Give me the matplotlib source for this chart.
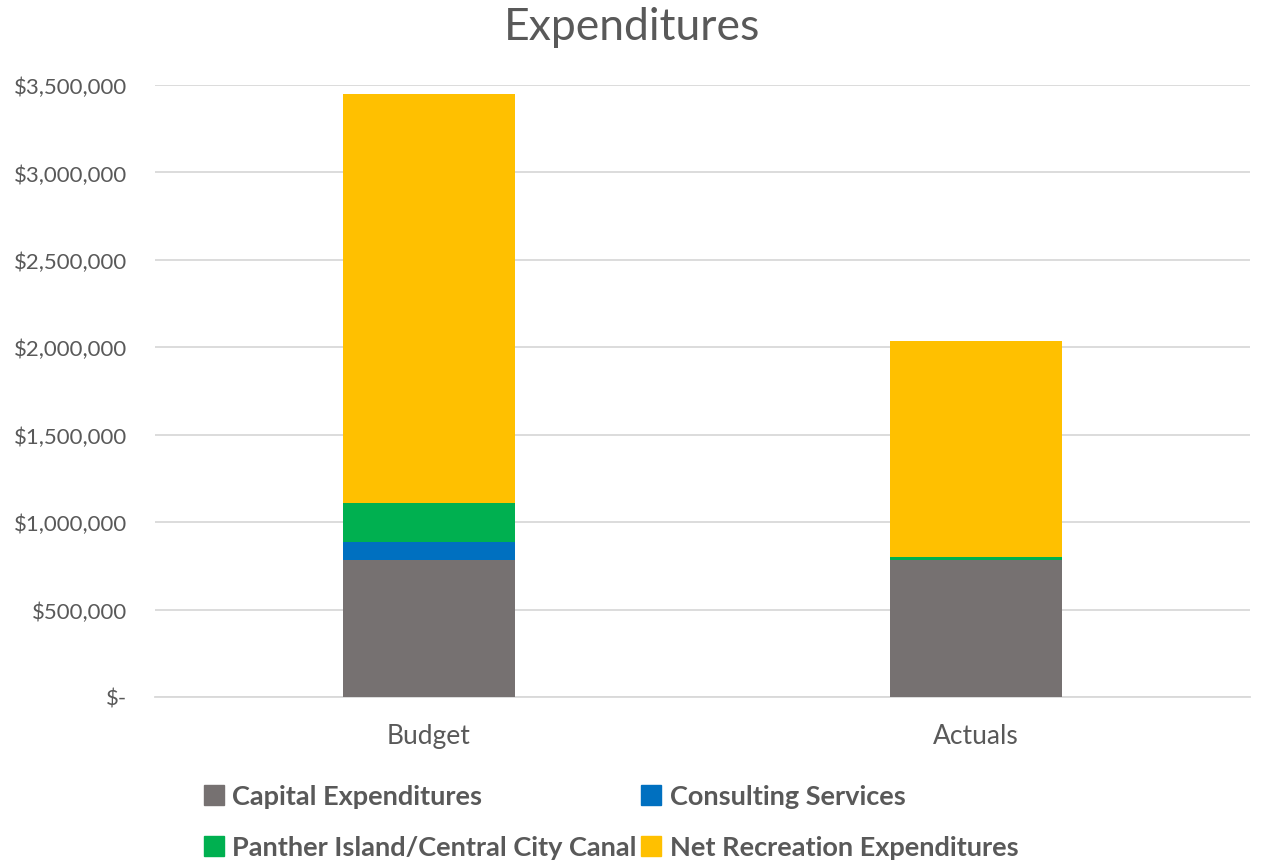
import matplotlib.pyplot as plt
from matplotlib.lines import Line2D
from matplotlib.ticker import FuncFormatter

categories = ["Budget", "Actuals"]
series_names = ["Capital Expenditures", "Consulting Services",
                "Panther Island/Central City Canal", "Net Recreation Expenditures"]
capital = [784000, 785000]
consulting = [101000, 0]
panther = [223000, 16000]
recreation = [2342000, 1236000]
yticks = [0, 500000, 1000000, 1500000, 2000000, 2500000, 3000000, 3500000]

colors = ["#767171", "#0070C0", "#00B050", "#FFC000"]
text_col = "#595959"
plt.rcParams['font.family'] = ['Lato', 'DejaVu Sans']

fig = plt.figure(figsize=(12.64, 8.62), dpi=100)
ax = fig.add_axes([155/1264, 1 - 698/862, (1250 - 155)/1264, (698 - 86)/862])

x = range(len(categories))
bottom = [0, 0]
for vals, name, c in zip([capital, consulting, panther, recreation], series_names, colors):
    ax.bar(x, vals, width=0.314, bottom=bottom, color=c, label=name, zorder=3)
    bottom = [b + v for b, v in zip(bottom, vals)]

ax.set_xlim(-0.5, 1.5)
ax.set_ylim(0, 3500000)
ax.set_yticks(yticks)
ax.yaxis.set_major_formatter(FuncFormatter(lambda v, p: "$-" if v == 0 else "${:,.0f}".format(v)))
ax.set_xticks(list(x))
ax.set_xticklabels(categories)
ax.grid(axis='y', color="#D9D9D9", linewidth=1.3, zorder=0)
for s in ["top", "right", "left"]:
    ax.spines[s].set_visible(False)
ax.spines["bottom"].set_color("#D9D9D9")
ax.spines["bottom"].set_linewidth(1.3)
ax.tick_params(axis='both', length=0, colors=text_col)
ax.tick_params(axis='y', pad=20, labelsize=16)
ax.tick_params(axis='x', pad=19, labelsize=19)

fig.text(0.5, 1 - 27/862, "Expenditures", ha='center', va='center', fontsize=32, color=text_col)

handles = [Line2D([], [], marker='s', linestyle='none', markersize=14, color=c) for c in colors]
order = [0, 2, 1, 3]
fig.legend([handles[i] for i in order], [series_names[i] for i in order], ncol=2,
           loc='upper left', bbox_to_anchor=(200/1264, 1 - 785/862), frameon=False,
           prop={'size': 19.5, 'weight': 'bold'}, labelcolor=text_col,
           handletextpad=0.2, columnspacing=0.0, labelspacing=1.0, handlelength=1.0,
           borderaxespad=0, borderpad=0)

fig.savefig("out.png", dpi=100)
